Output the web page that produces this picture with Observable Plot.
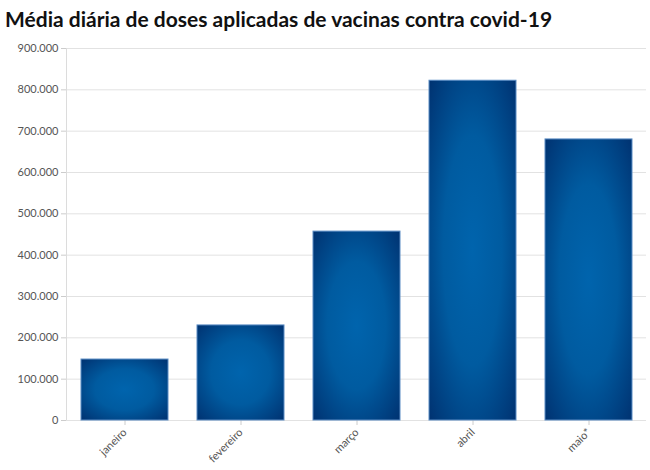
<!DOCTYPE html>
<html>
<head>
<meta charset="utf-8">
<script src="https://cdn.jsdelivr.net/npm/d3@7"></script>
<script src="https://cdn.jsdelivr.net/npm/@observablehq/plot@0.6"></script>
<style>
  body { margin: 0; background: #fff; width: 650px; height: 470px; overflow: hidden; }
  #title { font-family: Lato, "Open Sans", sans-serif; font-weight: 700; font-size: 21px; color: #111; padding: 6px 0 0 5px; height: 32px; line-height: 26px; white-space: nowrap; }
  svg { display: block; }
</style>
</head>
<body>
<div id="title">Média diária de doses aplicadas de vacinas contra covid-19</div>
<div id="chart"></div>
<script>
const months = ["janeiro", "fevereiro", "março", "abril", "maio*"];
const doses = [147500, 230000, 457000, 822000, 680000];
const yTicks = [0, 100000, 200000, 300000, 400000, 500000, 600000, 700000, 800000, 900000];

const data = months.map((m, i) => ({month: m, value: doses[i]}));
const fmt = d3.formatLocale({thousands: ".", grouping: [3], decimal: ",", currency: ["R$", ""]}).format(",d");

const chart = Plot.plot({
  width: 650,
  height: 432,
  marginTop: 10,
  marginBottom: 50,
  marginLeft: 66,
  marginRight: 4,
  style: {fontFamily: "Lato, 'Open Sans', sans-serif", fontSize: "11px", color: "#555", background: "#fff"},
  x: {domain: months, paddingInner: 0.25, paddingOuter: 0.125, label: null},
  y: {domain: [0, 900000], label: null},
  marks: [
    Plot.gridY(yTicks, {stroke: "#e2e2e2", strokeOpacity: 1, strokeWidth: 1}),
    Plot.axisY(yTicks, {tickFormat: fmt, tickSize: 5, tickPadding: 3, stroke: "#ccc", fill: "#555", fontSize: 11}),
    Plot.axisX({tickSize: 5, tickRotate: -45, tickPadding: 5, stroke: "#ccc", fill: "#555", fontSize: 11}),
    Plot.barY(data, {x: "month", y: "value", fill: "url(#barGrad)", stroke: "#5a8cc4", strokeWidth: 1}),
  ]
});

const svg = d3.select(chart);
svg.append("line")
  .attr("x1", 66.5).attr("x2", 66.5).attr("y1", 10).attr("y2", 382)
  .attr("stroke", "#dcdcdc");

const defs = svg.insert("defs", ":first-child");
const g = defs.append("radialGradient").attr("id", "barGrad")
  .attr("cx", "50%").attr("cy", "50%").attr("r", "75%");
g.append("stop").attr("offset", "0%").attr("stop-color", "#0064ad");
g.append("stop").attr("offset", "45%").attr("stop-color", "#005ba0");
g.append("stop").attr("offset", "100%").attr("stop-color", "#002d6b");

document.getElementById("chart").appendChild(chart);
</script>
</body>
</html>
